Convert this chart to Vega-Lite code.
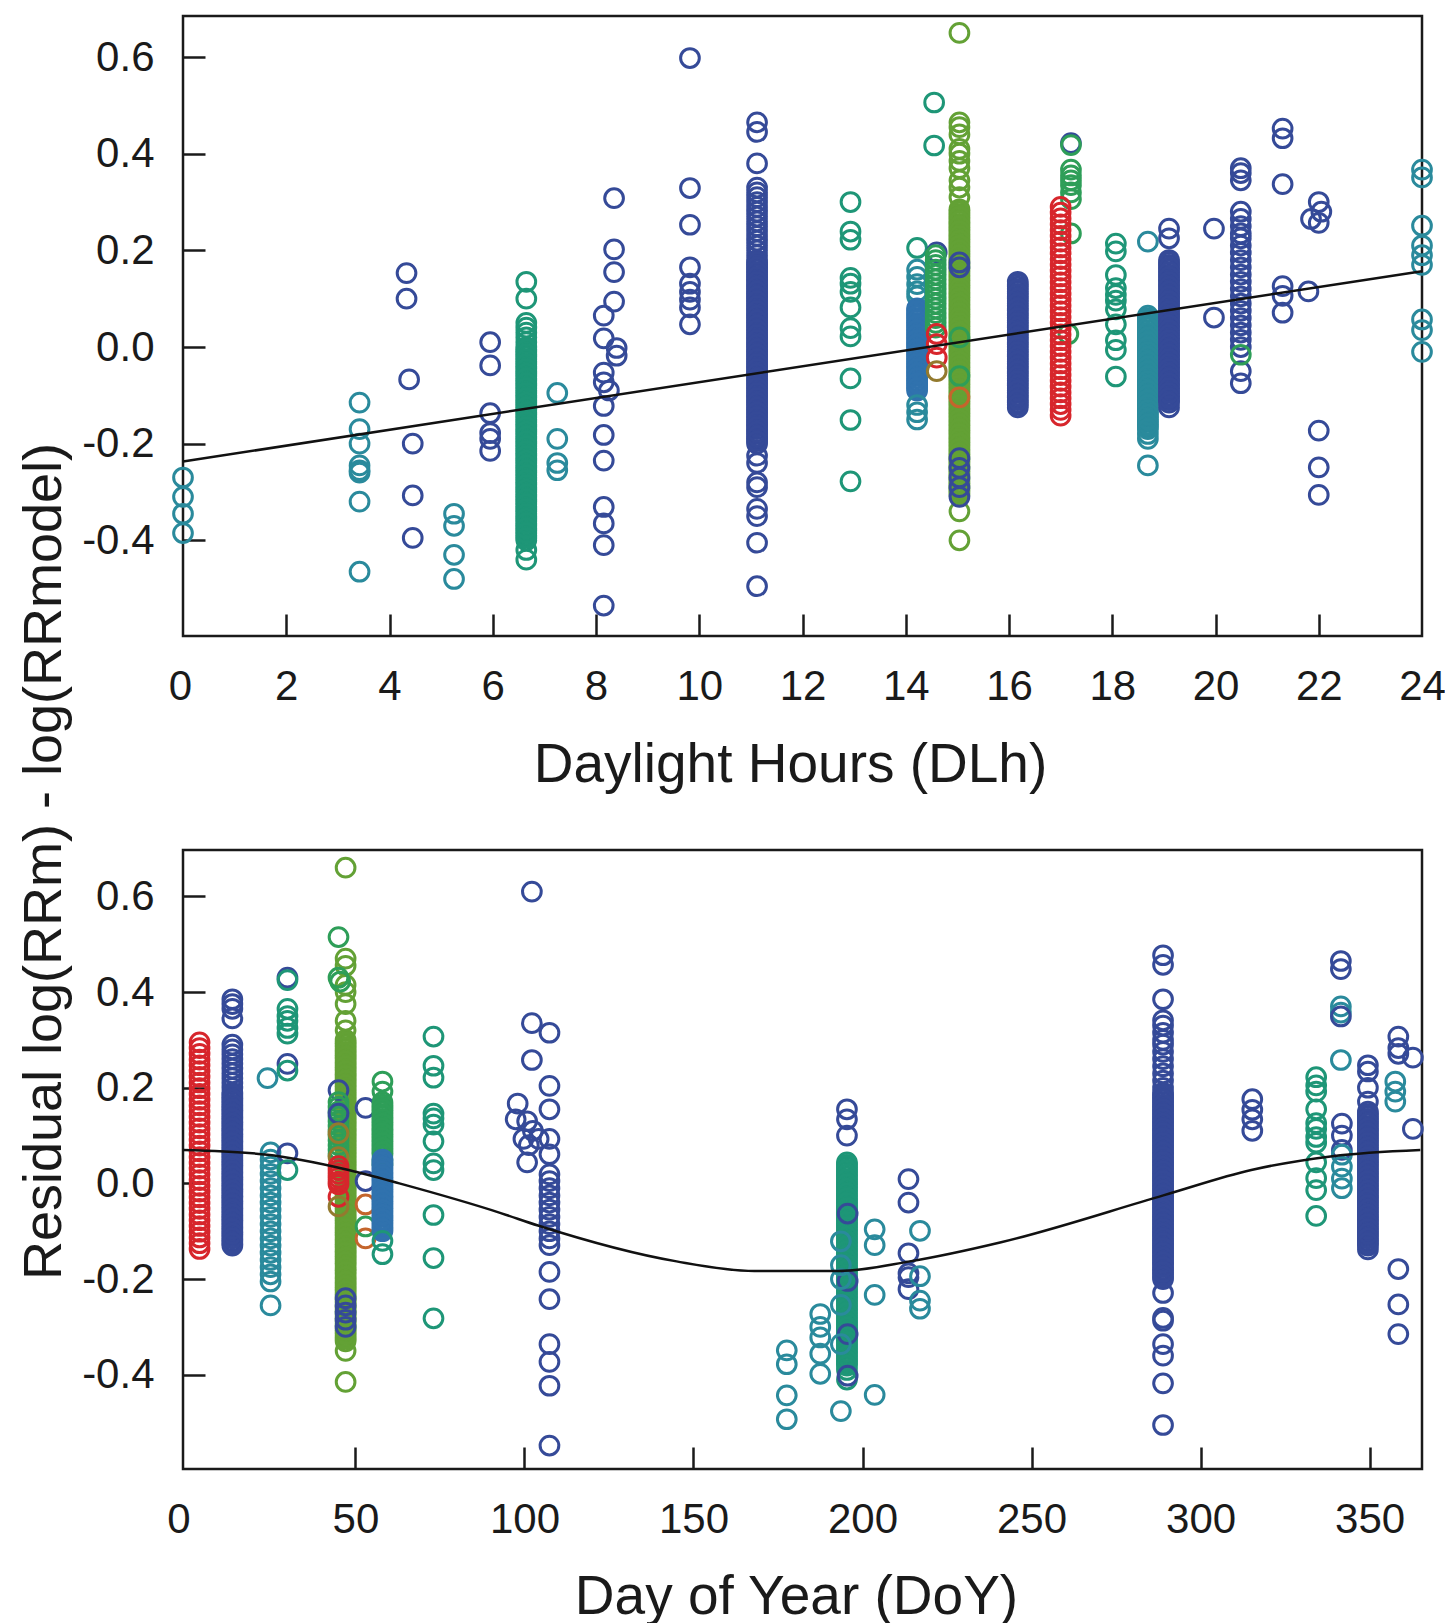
{
"$schema":"https://vega.github.io/schema/vega-lite/v6.json",
"background":"white",
"padding":{"left":15,"top":14,"right":2,"bottom":0},
"spacing":214,
"bounds":"flush",
"config":{
 "view":{"stroke":"#1a1a1a","strokeWidth":2.5},
 "axis":{"domain":false,"grid":false,"ticks":true,"tickColor":"#1a1a1a","tickWidth":2.5,"tickSize":-22,"labelFont":"Liberation Sans","labelFontSize":42,"labelColor":"#1a1a1a","titleFont":"Liberation Sans","titleFontSize":55,"titleFontWeight":"normal","titleColor":"#1a1a1a","labelFlush":false,"labelOverlap":false},
 "axisX":{"labelPadding":52},
 "axisY":{"labelPadding":51}
},
"datasets":{
"tl":[{"x":0,"y":-0.237},{"x":24,"y":0.157}],
"bl":[{"x":-1,"y":0.07},{"x":24,"y":0.06},{"x":34,"y":0.049},{"x":48,"y":0.028},{"x":63,"y":0.0},{"x":93,"y":-0.062},{"x":104,"y":-0.088},{"x":145,"y":-0.163},{"x":168,"y":-0.183},{"x":193,"y":-0.183},{"x":214,"y":-0.163},{"x":241,"y":-0.123},{"x":289,"y":-0.025},{"x":315,"y":0.028},{"x":339,"y":0.057},{"x":365,"y":0.07}],
"top":[
{"x":0,"y":-0.27,"c":"tea"},{"x":0,"y":-0.31,"c":"tea"},{"x":0,"y":-0.345,"c":"tea"},{"x":0,"y":-0.385,"c":"tea"},
{"x":3.42,"y":-0.115,"c":"tea"},{"x":3.42,"y":-0.17,"c":"tea"},{"x":3.42,"y":-0.2,"c":"tea"},{"x":3.42,"y":-0.245,"c":"tea"},{"x":3.42,"y":-0.255,"c":"tea"},{"x":3.42,"y":-0.26,"c":"tea"},{"x":3.42,"y":-0.32,"c":"tea"},{"x":3.42,"y":-0.465,"c":"tea"},
{"x":4.33,"y":0.153,"c":"nav"},{"x":4.33,"y":0.1,"c":"nav"},{"x":4.38,"y":-0.067,"c":"nav"},{"x":4.45,"y":-0.2,"c":"nav"},{"x":4.45,"y":-0.307,"c":"nav"},{"x":4.45,"y":-0.395,"c":"nav"},
{"x":5.25,"y":-0.345,"c":"tea"},{"x":5.25,"y":-0.37,"c":"tea"},{"x":5.25,"y":-0.43,"c":"tea"},{"x":5.25,"y":-0.48,"c":"tea"},
{"x":5.95,"y":0.01,"c":"nav"},{"x":5.95,"y":-0.038,"c":"nav"},{"x":5.95,"y":-0.137,"c":"nav"},{"x":5.95,"y":-0.178,"c":"nav"},{"x":5.95,"y":-0.19,"c":"nav"},{"x":5.95,"y":-0.215,"c":"nav"},
{"x":6.65,"y":0.135,"c":"sea"},{"x":6.65,"y":0.1,"c":"sea"},{"x":6.65,"y":0.05,"c":"sea"},{"x":6.65,"y":0.04,"c":"sea"},{"x":6.65,"y":0.03,"c":"sea"},{"x":6.65,"y":0.02,"c":"sea"},{"x":6.65,"y":0.01,"c":"sea"},{"x":6.65,"y":0,"c":"sea"},{"x":6.65,"y":-0.01,"c":"sea"},{"x":6.65,"y":-0.02,"c":"sea"},{"x":6.65,"y":-0.03,"c":"sea"},{"x":6.65,"y":-0.04,"c":"sea"},{"x":6.65,"y":-0.05,"c":"sea"},{"x":6.65,"y":-0.06,"c":"sea"},{"x":6.65,"y":-0.07,"c":"sea"},{"x":6.65,"y":-0.08,"c":"sea"},{"x":6.65,"y":-0.09,"c":"sea"},{"x":6.65,"y":-0.1,"c":"sea"},{"x":6.65,"y":-0.11,"c":"sea"},{"x":6.65,"y":-0.12,"c":"sea"},{"x":6.65,"y":-0.13,"c":"sea"},{"x":6.65,"y":-0.14,"c":"sea"},{"x":6.65,"y":-0.15,"c":"sea"},{"x":6.65,"y":-0.16,"c":"sea"},{"x":6.65,"y":-0.17,"c":"sea"},{"x":6.65,"y":-0.18,"c":"sea"},{"x":6.65,"y":-0.19,"c":"sea"},{"x":6.65,"y":-0.2,"c":"sea"},{"x":6.65,"y":-0.21,"c":"sea"},{"x":6.65,"y":-0.22,"c":"sea"},{"x":6.65,"y":-0.23,"c":"sea"},{"x":6.65,"y":-0.24,"c":"sea"},{"x":6.65,"y":-0.25,"c":"sea"},{"x":6.65,"y":-0.26,"c":"sea"},{"x":6.65,"y":-0.27,"c":"sea"},{"x":6.65,"y":-0.28,"c":"sea"},{"x":6.65,"y":-0.29,"c":"sea"},{"x":6.65,"y":-0.3,"c":"sea"},{"x":6.65,"y":-0.31,"c":"sea"},{"x":6.65,"y":-0.32,"c":"sea"},{"x":6.65,"y":-0.33,"c":"sea"},{"x":6.65,"y":-0.34,"c":"sea"},{"x":6.65,"y":-0.35,"c":"sea"},{"x":6.65,"y":-0.36,"c":"sea"},{"x":6.65,"y":-0.37,"c":"sea"},{"x":6.65,"y":-0.38,"c":"sea"},{"x":6.65,"y":-0.39,"c":"sea"},{"x":6.65,"y":-0.4,"c":"sea"},{"x":6.65,"y":-0.42,"c":"sea"},{"x":6.65,"y":-0.44,"c":"sea"},
{"x":6.65,"y":-0.005,"c":"sea"},{"x":6.65,"y":-0.015,"c":"sea"},{"x":6.65,"y":-0.025,"c":"sea"},{"x":6.65,"y":-0.035,"c":"sea"},{"x":6.65,"y":-0.045,"c":"sea"},{"x":6.65,"y":-0.055,"c":"sea"},{"x":6.65,"y":-0.065,"c":"sea"},{"x":6.65,"y":-0.075,"c":"sea"},{"x":6.65,"y":-0.085,"c":"sea"},{"x":6.65,"y":-0.095,"c":"sea"},{"x":6.65,"y":-0.105,"c":"sea"},{"x":6.65,"y":-0.115,"c":"sea"},{"x":6.65,"y":-0.125,"c":"sea"},{"x":6.65,"y":-0.135,"c":"sea"},{"x":6.65,"y":-0.145,"c":"sea"},{"x":6.65,"y":-0.155,"c":"sea"},{"x":6.65,"y":-0.165,"c":"sea"},{"x":6.65,"y":-0.175,"c":"sea"},{"x":6.65,"y":-0.185,"c":"sea"},{"x":6.65,"y":-0.195,"c":"sea"},{"x":6.65,"y":-0.205,"c":"sea"},{"x":6.65,"y":-0.215,"c":"sea"},{"x":6.65,"y":-0.225,"c":"sea"},{"x":6.65,"y":-0.235,"c":"sea"},{"x":6.65,"y":-0.245,"c":"sea"},{"x":6.65,"y":-0.255,"c":"sea"},{"x":6.65,"y":-0.265,"c":"sea"},{"x":6.65,"y":-0.275,"c":"sea"},{"x":6.65,"y":-0.285,"c":"sea"},{"x":6.65,"y":-0.295,"c":"sea"},{"x":6.65,"y":-0.305,"c":"sea"},{"x":6.65,"y":-0.315,"c":"sea"},{"x":6.65,"y":-0.325,"c":"sea"},{"x":6.65,"y":-0.335,"c":"sea"},{"x":6.65,"y":-0.345,"c":"sea"},{"x":6.65,"y":-0.355,"c":"sea"},{"x":6.65,"y":-0.365,"c":"sea"},{"x":6.65,"y":-0.375,"c":"sea"},{"x":6.65,"y":-0.385,"c":"sea"},{"x":6.65,"y":-0.395,"c":"sea"},
{"x":7.25,"y":-0.095,"c":"tea"},{"x":7.25,"y":-0.19,"c":"tea"},{"x":7.25,"y":-0.24,"c":"tea"},{"x":7.25,"y":-0.255,"c":"tea"},
{"x":8.35,"y":0.308,"c":"nav"},{"x":8.35,"y":0.202,"c":"nav"},{"x":8.35,"y":0.155,"c":"nav"},{"x":8.35,"y":0.094,"c":"nav"},{"x":8.15,"y":0.065,"c":"nav"},{"x":8.15,"y":0.018,"c":"nav"},{"x":8.4,"y":-0.002,"c":"nav"},{"x":8.4,"y":-0.018,"c":"nav"},{"x":8.15,"y":-0.053,"c":"nav"},{"x":8.15,"y":-0.073,"c":"nav"},{"x":8.25,"y":-0.09,"c":"nav"},{"x":8.15,"y":-0.122,"c":"nav"},{"x":8.15,"y":-0.182,"c":"nav"},{"x":8.15,"y":-0.235,"c":"nav"},{"x":8.15,"y":-0.331,"c":"nav"},{"x":8.15,"y":-0.365,"c":"nav"},{"x":8.15,"y":-0.41,"c":"nav"},{"x":8.15,"y":-0.535,"c":"nav"},
{"x":9.82,"y":0.598,"c":"nav"},{"x":9.82,"y":0.329,"c":"nav"},{"x":9.82,"y":0.253,"c":"nav"},{"x":9.82,"y":0.165,"c":"nav"},{"x":9.82,"y":0.131,"c":"nav"},{"x":9.82,"y":0.114,"c":"nav"},{"x":9.82,"y":0.098,"c":"nav"},{"x":9.82,"y":0.082,"c":"nav"},{"x":9.82,"y":0.047,"c":"nav"},
{"x":11.12,"y":0.465,"c":"nav"},{"x":11.12,"y":0.445,"c":"nav"},{"x":11.12,"y":0.38,"c":"nav"},{"x":11.12,"y":0.33,"c":"nav"},{"x":11.12,"y":0.32,"c":"nav"},{"x":11.12,"y":0.31,"c":"nav"},{"x":11.12,"y":0.3,"c":"nav"},{"x":11.12,"y":0.29,"c":"nav"},{"x":11.12,"y":0.28,"c":"nav"},{"x":11.12,"y":0.27,"c":"nav"},{"x":11.12,"y":0.26,"c":"nav"},{"x":11.12,"y":0.25,"c":"nav"},{"x":11.12,"y":0.24,"c":"nav"},{"x":11.12,"y":0.23,"c":"nav"},{"x":11.12,"y":0.22,"c":"nav"},{"x":11.12,"y":0.21,"c":"nav"},{"x":11.12,"y":0.2,"c":"nav"},{"x":11.12,"y":0.19,"c":"nav"},{"x":11.12,"y":0.18,"c":"nav"},{"x":11.12,"y":0.17,"c":"nav"},{"x":11.12,"y":0.16,"c":"nav"},{"x":11.12,"y":0.15,"c":"nav"},{"x":11.12,"y":0.14,"c":"nav"},{"x":11.12,"y":0.13,"c":"nav"},{"x":11.12,"y":0.12,"c":"nav"},{"x":11.12,"y":0.11,"c":"nav"},{"x":11.12,"y":0.1,"c":"nav"},{"x":11.12,"y":0.09,"c":"nav"},{"x":11.12,"y":0.08,"c":"nav"},{"x":11.12,"y":0.07,"c":"nav"},{"x":11.12,"y":0.06,"c":"nav"},{"x":11.12,"y":0.05,"c":"nav"},{"x":11.12,"y":0.04,"c":"nav"},{"x":11.12,"y":0.03,"c":"nav"},{"x":11.12,"y":0.02,"c":"nav"},{"x":11.12,"y":0.01,"c":"nav"},{"x":11.12,"y":0,"c":"nav"},{"x":11.12,"y":-0.01,"c":"nav"},{"x":11.12,"y":-0.02,"c":"nav"},{"x":11.12,"y":-0.03,"c":"nav"},{"x":11.12,"y":-0.04,"c":"nav"},{"x":11.12,"y":-0.05,"c":"nav"},{"x":11.12,"y":-0.06,"c":"nav"},{"x":11.12,"y":-0.07,"c":"nav"},{"x":11.12,"y":-0.08,"c":"nav"},{"x":11.12,"y":-0.09,"c":"nav"},{"x":11.12,"y":-0.1,"c":"nav"},{"x":11.12,"y":-0.11,"c":"nav"},{"x":11.12,"y":-0.12,"c":"nav"},{"x":11.12,"y":-0.13,"c":"nav"},{"x":11.12,"y":-0.14,"c":"nav"},{"x":11.12,"y":-0.15,"c":"nav"},{"x":11.12,"y":-0.16,"c":"nav"},{"x":11.12,"y":-0.17,"c":"nav"},{"x":11.12,"y":-0.18,"c":"nav"},{"x":11.12,"y":-0.19,"c":"nav"},{"x":11.12,"y":-0.2,"c":"nav"},{"x":11.12,"y":-0.225,"c":"nav"},{"x":11.12,"y":-0.24,"c":"nav"},{"x":11.12,"y":-0.28,"c":"nav"},{"x":11.12,"y":-0.29,"c":"nav"},{"x":11.12,"y":-0.335,"c":"nav"},{"x":11.12,"y":-0.35,"c":"nav"},{"x":11.12,"y":-0.405,"c":"nav"},{"x":11.12,"y":-0.495,"c":"nav"},
{"x":11.12,"y":0.175,"c":"nav"},{"x":11.12,"y":0.165,"c":"nav"},{"x":11.12,"y":0.155,"c":"nav"},{"x":11.12,"y":0.145,"c":"nav"},{"x":11.12,"y":0.135,"c":"nav"},{"x":11.12,"y":0.125,"c":"nav"},{"x":11.12,"y":0.115,"c":"nav"},{"x":11.12,"y":0.105,"c":"nav"},{"x":11.12,"y":0.095,"c":"nav"},{"x":11.12,"y":0.085,"c":"nav"},{"x":11.12,"y":0.075,"c":"nav"},{"x":11.12,"y":0.065,"c":"nav"},{"x":11.12,"y":0.055,"c":"nav"},{"x":11.12,"y":0.045,"c":"nav"},{"x":11.12,"y":0.035,"c":"nav"},{"x":11.12,"y":0.025,"c":"nav"},{"x":11.12,"y":0.015,"c":"nav"},{"x":11.12,"y":0.005,"c":"nav"},{"x":11.12,"y":-0.005,"c":"nav"},{"x":11.12,"y":-0.015,"c":"nav"},{"x":11.12,"y":-0.025,"c":"nav"},{"x":11.12,"y":-0.035,"c":"nav"},{"x":11.12,"y":-0.045,"c":"nav"},{"x":11.12,"y":-0.055,"c":"nav"},{"x":11.12,"y":-0.065,"c":"nav"},{"x":11.12,"y":-0.075,"c":"nav"},{"x":11.12,"y":-0.085,"c":"nav"},{"x":11.12,"y":-0.095,"c":"nav"},{"x":11.12,"y":-0.105,"c":"nav"},{"x":11.12,"y":-0.115,"c":"nav"},{"x":11.12,"y":-0.125,"c":"nav"},{"x":11.12,"y":-0.135,"c":"nav"},{"x":11.12,"y":-0.145,"c":"nav"},{"x":11.12,"y":-0.155,"c":"nav"},{"x":11.12,"y":-0.165,"c":"nav"},{"x":11.12,"y":-0.175,"c":"nav"},{"x":11.12,"y":-0.185,"c":"nav"},{"x":11.12,"y":-0.195,"c":"nav"},
{"x":12.93,"y":0.3,"c":"sea"},{"x":12.93,"y":0.239,"c":"sea"},{"x":12.93,"y":0.222,"c":"sea"},{"x":12.93,"y":0.143,"c":"sea"},{"x":12.93,"y":0.131,"c":"sea"},{"x":12.93,"y":0.114,"c":"sea"},{"x":12.93,"y":0.082,"c":"sea"},{"x":12.93,"y":0.039,"c":"sea"},{"x":12.93,"y":0.022,"c":"sea"},{"x":12.93,"y":-0.065,"c":"sea"},{"x":12.93,"y":-0.151,"c":"sea"},{"x":12.93,"y":-0.278,"c":"sea"},
{"x":14.22,"y":0.205,"c":"sea"},{"x":14.22,"y":0.16,"c":"tea"},{"x":14.22,"y":0.145,"c":"tea"},{"x":14.22,"y":0.13,"c":"tea"},{"x":14.22,"y":0.115,"c":"tea"},{"x":14.22,"y":0.105,"c":"tea"},
{"x":14.22,"y":0.08,"c":"stb"},{"x":14.22,"y":0.07,"c":"stb"},{"x":14.22,"y":0.06,"c":"stb"},{"x":14.22,"y":0.05,"c":"stb"},{"x":14.22,"y":0.04,"c":"stb"},{"x":14.22,"y":0.03,"c":"stb"},{"x":14.22,"y":0.02,"c":"stb"},{"x":14.22,"y":0.01,"c":"stb"},{"x":14.22,"y":0,"c":"stb"},{"x":14.22,"y":-0.01,"c":"stb"},{"x":14.22,"y":-0.02,"c":"stb"},{"x":14.22,"y":-0.03,"c":"stb"},{"x":14.22,"y":-0.04,"c":"stb"},{"x":14.22,"y":-0.05,"c":"stb"},{"x":14.22,"y":-0.06,"c":"stb"},{"x":14.22,"y":-0.07,"c":"stb"},{"x":14.22,"y":-0.08,"c":"stb"},{"x":14.22,"y":-0.09,"c":"stb"},
{"x":14.22,"y":0.075,"c":"stb"},{"x":14.22,"y":0.065,"c":"stb"},{"x":14.22,"y":0.055,"c":"stb"},{"x":14.22,"y":0.045,"c":"stb"},{"x":14.22,"y":0.035,"c":"stb"},{"x":14.22,"y":0.025,"c":"stb"},{"x":14.22,"y":0.015,"c":"stb"},{"x":14.22,"y":0.005,"c":"stb"},{"x":14.22,"y":-0.005,"c":"stb"},{"x":14.22,"y":-0.015,"c":"stb"},{"x":14.22,"y":-0.025,"c":"stb"},{"x":14.22,"y":-0.035,"c":"stb"},{"x":14.22,"y":-0.045,"c":"stb"},{"x":14.22,"y":-0.055,"c":"stb"},{"x":14.22,"y":-0.065,"c":"stb"},{"x":14.22,"y":-0.075,"c":"stb"},{"x":14.22,"y":-0.085,"c":"stb"},
{"x":14.22,"y":-0.12,"c":"tea"},{"x":14.22,"y":-0.135,"c":"tea"},{"x":14.22,"y":-0.15,"c":"tea"},
{"x":14.55,"y":0.506,"c":"sea"},{"x":14.55,"y":0.417,"c":"sea"},{"x":14.6,"y":0.196,"c":"nav"},
{"x":14.58,"y":0.19,"c":"grn"},{"x":14.58,"y":0.18,"c":"grn"},{"x":14.58,"y":0.17,"c":"grn"},{"x":14.58,"y":0.16,"c":"grn"},{"x":14.58,"y":0.15,"c":"grn"},{"x":14.58,"y":0.14,"c":"grn"},{"x":14.58,"y":0.13,"c":"grn"},{"x":14.58,"y":0.12,"c":"grn"},{"x":14.58,"y":0.11,"c":"grn"},{"x":14.58,"y":0.1,"c":"grn"},{"x":14.58,"y":0.09,"c":"grn"},{"x":14.58,"y":0.08,"c":"grn"},{"x":14.58,"y":0.07,"c":"grn"},{"x":14.58,"y":0.06,"c":"grn"},{"x":14.58,"y":0.05,"c":"grn"},{"x":14.58,"y":0.04,"c":"grn"},
{"x":14.6,"y":0.027,"c":"red"},{"x":14.6,"y":0.006,"c":"red"},{"x":14.6,"y":-0.022,"c":"red"},{"x":14.6,"y":-0.05,"c":"brn"},
{"x":15.04,"y":0.65,"c":"oli"},{"x":15.04,"y":0.465,"c":"oli"},{"x":15.04,"y":0.455,"c":"oli"},{"x":15.04,"y":0.44,"c":"oli"},{"x":15.04,"y":0.41,"c":"oli"},{"x":15.04,"y":0.4,"c":"oli"},{"x":15.04,"y":0.385,"c":"oli"},{"x":15.04,"y":0.37,"c":"oli"},{"x":15.04,"y":0.345,"c":"oli"},{"x":15.04,"y":0.33,"c":"oli"},{"x":15.04,"y":0.31,"c":"oli"},
{"x":15.04,"y":0.285,"c":"oli"},{"x":15.04,"y":0.275,"c":"oli"},{"x":15.04,"y":0.265,"c":"oli"},{"x":15.04,"y":0.255,"c":"oli"},{"x":15.04,"y":0.245,"c":"oli"},{"x":15.04,"y":0.235,"c":"oli"},{"x":15.04,"y":0.225,"c":"oli"},{"x":15.04,"y":0.215,"c":"oli"},{"x":15.04,"y":0.205,"c":"oli"},{"x":15.04,"y":0.195,"c":"oli"},{"x":15.04,"y":0.185,"c":"oli"},{"x":15.04,"y":0.175,"c":"oli"},{"x":15.04,"y":0.165,"c":"oli"},{"x":15.04,"y":0.155,"c":"oli"},{"x":15.04,"y":0.145,"c":"oli"},{"x":15.04,"y":0.135,"c":"oli"},{"x":15.04,"y":0.125,"c":"oli"},{"x":15.04,"y":0.115,"c":"oli"},{"x":15.04,"y":0.105,"c":"oli"},{"x":15.04,"y":0.095,"c":"oli"},{"x":15.04,"y":0.085,"c":"oli"},{"x":15.04,"y":0.075,"c":"oli"},{"x":15.04,"y":0.065,"c":"oli"},{"x":15.04,"y":0.055,"c":"oli"},{"x":15.04,"y":0.045,"c":"oli"},{"x":15.04,"y":0.035,"c":"oli"},{"x":15.04,"y":0.025,"c":"oli"},{"x":15.04,"y":0.015,"c":"oli"},{"x":15.04,"y":0.005,"c":"oli"},{"x":15.04,"y":-0.005,"c":"oli"},{"x":15.04,"y":-0.015,"c":"oli"},{"x":15.04,"y":-0.025,"c":"oli"},{"x":15.04,"y":-0.035,"c":"oli"},{"x":15.04,"y":-0.045,"c":"oli"},{"x":15.04,"y":-0.055,"c":"oli"},{"x":15.04,"y":-0.065,"c":"oli"},{"x":15.04,"y":-0.075,"c":"oli"},{"x":15.04,"y":-0.085,"c":"oli"},{"x":15.04,"y":-0.095,"c":"oli"},{"x":15.04,"y":-0.105,"c":"oli"},{"x":15.04,"y":-0.115,"c":"oli"},{"x":15.04,"y":-0.125,"c":"oli"},{"x":15.04,"y":-0.135,"c":"oli"},{"x":15.04,"y":-0.145,"c":"oli"},{"x":15.04,"y":-0.155,"c":"oli"},{"x":15.04,"y":-0.165,"c":"oli"},{"x":15.04,"y":-0.175,"c":"oli"},{"x":15.04,"y":-0.185,"c":"oli"},{"x":15.04,"y":-0.195,"c":"oli"},{"x":15.04,"y":-0.205,"c":"oli"},{"x":15.04,"y":-0.215,"c":"oli"},{"x":15.04,"y":-0.225,"c":"oli"},{"x":15.04,"y":-0.235,"c":"oli"},{"x":15.04,"y":-0.245,"c":"oli"},{"x":15.04,"y":-0.255,"c":"oli"},{"x":15.04,"y":-0.265,"c":"oli"},{"x":15.04,"y":-0.275,"c":"oli"},{"x":15.04,"y":-0.285,"c":"oli"},{"x":15.04,"y":-0.295,"c":"oli"},{"x":15.04,"y":-0.305,"c":"oli"},{"x":15.04,"y":-0.34,"c":"oli"},{"x":15.04,"y":-0.4,"c":"oli"},
{"x":15.04,"y":0.28,"c":"oli"},{"x":15.04,"y":0.27,"c":"oli"},{"x":15.04,"y":0.26,"c":"oli"},{"x":15.04,"y":0.25,"c":"oli"},{"x":15.04,"y":0.24,"c":"oli"},{"x":15.04,"y":0.23,"c":"oli"},{"x":15.04,"y":0.22,"c":"oli"},{"x":15.04,"y":0.21,"c":"oli"},{"x":15.04,"y":0.2,"c":"oli"},{"x":15.04,"y":0.19,"c":"oli"},{"x":15.04,"y":0.18,"c":"oli"},{"x":15.04,"y":0.17,"c":"oli"},{"x":15.04,"y":0.16,"c":"oli"},{"x":15.04,"y":0.15,"c":"oli"},{"x":15.04,"y":0.14,"c":"oli"},{"x":15.04,"y":0.13,"c":"oli"},{"x":15.04,"y":0.12,"c":"oli"},{"x":15.04,"y":0.11,"c":"oli"},{"x":15.04,"y":0.1,"c":"oli"},{"x":15.04,"y":0.09,"c":"oli"},{"x":15.04,"y":0.08,"c":"oli"},{"x":15.04,"y":0.07,"c":"oli"},{"x":15.04,"y":0.06,"c":"oli"},{"x":15.04,"y":0.05,"c":"oli"},{"x":15.04,"y":0.04,"c":"oli"},{"x":15.04,"y":0.03,"c":"oli"},{"x":15.04,"y":0.02,"c":"oli"},{"x":15.04,"y":0.01,"c":"oli"},{"x":15.04,"y":0,"c":"oli"},{"x":15.04,"y":-0.01,"c":"oli"},{"x":15.04,"y":-0.02,"c":"oli"},{"x":15.04,"y":-0.03,"c":"oli"},{"x":15.04,"y":-0.04,"c":"oli"},{"x":15.04,"y":-0.05,"c":"oli"},{"x":15.04,"y":-0.06,"c":"oli"},{"x":15.04,"y":-0.07,"c":"oli"},{"x":15.04,"y":-0.08,"c":"oli"},{"x":15.04,"y":-0.09,"c":"oli"},{"x":15.04,"y":-0.1,"c":"oli"},{"x":15.04,"y":-0.11,"c":"oli"},{"x":15.04,"y":-0.12,"c":"oli"},{"x":15.04,"y":-0.13,"c":"oli"},{"x":15.04,"y":-0.14,"c":"oli"},{"x":15.04,"y":-0.15,"c":"oli"},{"x":15.04,"y":-0.16,"c":"oli"},{"x":15.04,"y":-0.17,"c":"oli"},{"x":15.04,"y":-0.18,"c":"oli"},{"x":15.04,"y":-0.19,"c":"oli"},{"x":15.04,"y":-0.2,"c":"oli"},{"x":15.04,"y":-0.21,"c":"oli"},{"x":15.04,"y":-0.22,"c":"oli"},{"x":15.04,"y":-0.23,"c":"oli"},{"x":15.04,"y":-0.24,"c":"oli"},{"x":15.04,"y":-0.25,"c":"oli"},{"x":15.04,"y":-0.26,"c":"oli"},{"x":15.04,"y":-0.27,"c":"oli"},{"x":15.04,"y":-0.28,"c":"oli"},{"x":15.04,"y":-0.29,"c":"oli"},{"x":15.04,"y":-0.3,"c":"oli"},
{"x":15.04,"y":0.175,"c":"nav"},{"x":15.04,"y":0.165,"c":"nav"},{"x":15.04,"y":0.02,"c":"grn"},{"x":15.04,"y":-0.06,"c":"grn"},{"x":15.04,"y":-0.104,"c":"org"},{"x":15.04,"y":-0.23,"c":"nav"},{"x":15.04,"y":-0.25,"c":"nav"},{"x":15.04,"y":-0.27,"c":"nav"},{"x":15.04,"y":-0.29,"c":"nav"},{"x":15.04,"y":-0.31,"c":"nav"},
{"x":16.17,"y":0.135,"c":"nav"},{"x":16.17,"y":0.125,"c":"nav"},{"x":16.17,"y":0.115,"c":"nav"},{"x":16.17,"y":0.105,"c":"nav"},{"x":16.17,"y":0.095,"c":"nav"},{"x":16.17,"y":0.085,"c":"nav"},{"x":16.17,"y":0.075,"c":"nav"},{"x":16.17,"y":0.065,"c":"nav"},{"x":16.17,"y":0.055,"c":"nav"},{"x":16.17,"y":0.045,"c":"nav"},{"x":16.17,"y":0.035,"c":"nav"},{"x":16.17,"y":0.025,"c":"nav"},{"x":16.17,"y":0.015,"c":"nav"},{"x":16.17,"y":0.005,"c":"nav"},{"x":16.17,"y":-0.005,"c":"nav"},{"x":16.17,"y":-0.015,"c":"nav"},{"x":16.17,"y":-0.025,"c":"nav"},{"x":16.17,"y":-0.035,"c":"nav"},{"x":16.17,"y":-0.045,"c":"nav"},{"x":16.17,"y":-0.055,"c":"nav"},{"x":16.17,"y":-0.065,"c":"nav"},{"x":16.17,"y":-0.075,"c":"nav"},{"x":16.17,"y":-0.085,"c":"nav"},{"x":16.17,"y":-0.095,"c":"nav"},{"x":16.17,"y":-0.105,"c":"nav"},{"x":16.17,"y":-0.115,"c":"nav"},{"x":16.17,"y":-0.125,"c":"nav"},
{"x":16.17,"y":0.13,"c":"nav"},{"x":16.17,"y":0.12,"c":"nav"},{"x":16.17,"y":0.11,"c":"nav"},{"x":16.17,"y":0.1,"c":"nav"},{"x":16.17,"y":0.09,"c":"nav"},{"x":16.17,"y":0.08,"c":"nav"},{"x":16.17,"y":0.07,"c":"nav"},{"x":16.17,"y":0.06,"c":"nav"},{"x":16.17,"y":0.05,"c":"nav"},{"x":16.17,"y":0.04,"c":"nav"},{"x":16.17,"y":0.03,"c":"nav"},{"x":16.17,"y":0.02,"c":"nav"},{"x":16.17,"y":0.01,"c":"nav"},{"x":16.17,"y":0,"c":"nav"},{"x":16.17,"y":-0.01,"c":"nav"},{"x":16.17,"y":-0.02,"c":"nav"},{"x":16.17,"y":-0.03,"c":"nav"},{"x":16.17,"y":-0.04,"c":"nav"},{"x":16.17,"y":-0.05,"c":"nav"},{"x":16.17,"y":-0.06,"c":"nav"},{"x":16.17,"y":-0.07,"c":"nav"},{"x":16.17,"y":-0.08,"c":"nav"},{"x":16.17,"y":-0.09,"c":"nav"},{"x":16.17,"y":-0.1,"c":"nav"},{"x":16.17,"y":-0.11,"c":"nav"},{"x":16.17,"y":-0.12,"c":"nav"},
{"x":17.2,"y":0.422,"c":"nav"},{"x":17.2,"y":0.418,"c":"grn"},{"x":17.2,"y":0.367,"c":"grn"},{"x":17.2,"y":0.355,"c":"grn"},{"x":17.2,"y":0.345,"c":"grn"},{"x":17.2,"y":0.335,"c":"grn"},{"x":17.2,"y":0.32,"c":"grn"},{"x":17.2,"y":0.306,"c":"grn"},{"x":17.2,"y":0.235,"c":"grn"},{"x":17.15,"y":0.027,"c":"grn"},
{"x":17.0,"y":0.29,"c":"red"},{"x":17.0,"y":0.278,"c":"red"},{"x":17.0,"y":0.266,"c":"red"},{"x":17.0,"y":0.254,"c":"red"},{"x":17.0,"y":0.242,"c":"red"},{"x":17.0,"y":0.23,"c":"red"},{"x":17.0,"y":0.218,"c":"red"},{"x":17.0,"y":0.206,"c":"red"},{"x":17.0,"y":0.194,"c":"red"},{"x":17.0,"y":0.182,"c":"red"},{"x":17.0,"y":0.17,"c":"red"},{"x":17.0,"y":0.158,"c":"red"},{"x":17.0,"y":0.146,"c":"red"},{"x":17.0,"y":0.134,"c":"red"},{"x":17.0,"y":0.122,"c":"red"},{"x":17.0,"y":0.11,"c":"red"},{"x":17.0,"y":0.098,"c":"red"},{"x":17.0,"y":0.086,"c":"red"},{"x":17.0,"y":0.074,"c":"red"},{"x":17.0,"y":0.062,"c":"red"},{"x":17.0,"y":0.05,"c":"red"},{"x":17.0,"y":0.038,"c":"red"},{"x":17.0,"y":0.026,"c":"red"},{"x":17.0,"y":0.014,"c":"red"},{"x":17.0,"y":0.002,"c":"red"},{"x":17.0,"y":-0.01,"c":"red"},{"x":17.0,"y":-0.022,"c":"red"},{"x":17.0,"y":-0.034,"c":"red"},{"x":17.0,"y":-0.046,"c":"red"},{"x":17.0,"y":-0.058,"c":"red"},{"x":17.0,"y":-0.07,"c":"red"},{"x":17.0,"y":-0.082,"c":"red"},{"x":17.0,"y":-0.094,"c":"red"},{"x":17.0,"y":-0.106,"c":"red"},{"x":17.0,"y":-0.118,"c":"red"},{"x":17.0,"y":-0.13,"c":"red"},{"x":17.0,"y":-0.142,"c":"red"},
{"x":18.07,"y":0.214,"c":"sea"},{"x":18.07,"y":0.198,"c":"sea"},{"x":18.07,"y":0.149,"c":"sea"},{"x":18.07,"y":0.122,"c":"sea"},{"x":18.07,"y":0.108,"c":"sea"},{"x":18.07,"y":0.096,"c":"sea"},{"x":18.07,"y":0.078,"c":"sea"},{"x":18.07,"y":0.047,"c":"sea"},{"x":18.07,"y":0.014,"c":"sea"},{"x":18.07,"y":-0.006,"c":"sea"},{"x":18.07,"y":-0.061,"c":"sea"},
{"x":18.69,"y":0.218,"c":"tea"},{"x":18.69,"y":0.065,"c":"tea"},{"x":18.69,"y":0.055,"c":"tea"},{"x":18.69,"y":0.045,"c":"tea"},{"x":18.69,"y":0.035,"c":"tea"},{"x":18.69,"y":0.025,"c":"tea"},{"x":18.69,"y":0.015,"c":"tea"},{"x":18.69,"y":0.005,"c":"tea"},{"x":18.69,"y":-0.005,"c":"tea"},{"x":18.69,"y":-0.015,"c":"tea"},{"x":18.69,"y":-0.025,"c":"tea"},{"x":18.69,"y":-0.035,"c":"tea"},{"x":18.69,"y":-0.045,"c":"tea"},{"x":18.69,"y":-0.055,"c":"tea"},{"x":18.69,"y":-0.065,"c":"tea"},{"x":18.69,"y":-0.075,"c":"tea"},{"x":18.69,"y":-0.085,"c":"tea"},{"x":18.69,"y":-0.095,"c":"tea"},{"x":18.69,"y":-0.105,"c":"tea"},{"x":18.69,"y":-0.115,"c":"tea"},{"x":18.69,"y":-0.125,"c":"tea"},{"x":18.69,"y":-0.135,"c":"tea"},{"x":18.69,"y":-0.145,"c":"tea"},{"x":18.69,"y":-0.155,"c":"tea"},{"x":18.69,"y":-0.165,"c":"tea"},{"x":18.69,"y":-0.18,"c":"tea"},{"x":18.69,"y":-0.19,"c":"tea"},{"x":18.69,"y":-0.245,"c":"tea"},
{"x":18.69,"y":0.06,"c":"tea"},{"x":18.69,"y":0.05,"c":"tea"},{"x":18.69,"y":0.04,"c":"tea"},{"x":18.69,"y":0.03,"c":"tea"},{"x":18.69,"y":0.02,"c":"tea"},{"x":18.69,"y":0.01,"c":"tea"},{"x":18.69,"y":0,"c":"tea"},{"x":18.69,"y":-0.01,"c":"tea"},{"x":18.69,"y":-0.02,"c":"tea"},{"x":18.69,"y":-0.03,"c":"tea"},{"x":18.69,"y":-0.04,"c":"tea"},{"x":18.69,"y":-0.05,"c":"tea"},{"x":18.69,"y":-0.06,"c":"tea"},{"x":18.69,"y":-0.07,"c":"tea"},{"x":18.69,"y":-0.08,"c":"tea"},{"x":18.69,"y":-0.09,"c":"tea"},{"x":18.69,"y":-0.1,"c":"tea"},{"x":18.69,"y":-0.11,"c":"tea"},{"x":18.69,"y":-0.12,"c":"tea"},{"x":18.69,"y":-0.13,"c":"tea"},{"x":18.69,"y":-0.14,"c":"tea"},{"x":18.69,"y":-0.15,"c":"tea"},{"x":18.69,"y":-0.16,"c":"tea"},{"x":18.69,"y":-0.17,"c":"tea"},
{"x":19.1,"y":0.245,"c":"nav"},{"x":19.1,"y":0.225,"c":"nav"},{"x":19.1,"y":0.18,"c":"nav"},{"x":19.1,"y":0.17,"c":"nav"},{"x":19.1,"y":0.16,"c":"nav"},{"x":19.1,"y":0.15,"c":"nav"},{"x":19.1,"y":0.14,"c":"nav"},{"x":19.1,"y":0.13,"c":"nav"},{"x":19.1,"y":0.12,"c":"nav"},{"x":19.1,"y":0.11,"c":"nav"},{"x":19.1,"y":0.1,"c":"nav"},{"x":19.1,"y":0.09,"c":"nav"},{"x":19.1,"y":0.08,"c":"nav"},{"x":19.1,"y":0.07,"c":"nav"},{"x":19.1,"y":0.06,"c":"nav"},{"x":19.1,"y":0.05,"c":"nav"},{"x":19.1,"y":0.04,"c":"nav"},{"x":19.1,"y":0.03,"c":"nav"},{"x":19.1,"y":0.02,"c":"nav"},{"x":19.1,"y":0.01,"c":"nav"},{"x":19.1,"y":0,"c":"nav"},{"x":19.1,"y":-0.01,"c":"nav"},{"x":19.1,"y":-0.02,"c":"nav"},{"x":19.1,"y":-0.03,"c":"nav"},{"x":19.1,"y":-0.04,"c":"nav"},{"x":19.1,"y":-0.05,"c":"nav"},{"x":19.1,"y":-0.06,"c":"nav"},{"x":19.1,"y":-0.07,"c":"nav"},{"x":19.1,"y":-0.08,"c":"nav"},{"x":19.1,"y":-0.09,"c":"nav"},{"x":19.1,"y":-0.1,"c":"nav"},{"x":19.1,"y":-0.11,"c":"nav"},{"x":19.1,"y":-0.125,"c":"nav"},
{"x":19.1,"y":0.175,"c":"nav"},{"x":19.1,"y":0.165,"c":"nav"},{"x":19.1,"y":0.155,"c":"nav"},{"x":19.1,"y":0.145,"c":"nav"},{"x":19.1,"y":0.135,"c":"nav"},{"x":19.1,"y":0.125,"c":"nav"},{"x":19.1,"y":0.115,"c":"nav"},{"x":19.1,"y":0.105,"c":"nav"},{"x":19.1,"y":0.095,"c":"nav"},{"x":19.1,"y":0.085,"c":"nav"},{"x":19.1,"y":0.075,"c":"nav"},{"x":19.1,"y":0.065,"c":"nav"},{"x":19.1,"y":0.055,"c":"nav"},{"x":19.1,"y":0.045,"c":"nav"},{"x":19.1,"y":0.035,"c":"nav"},{"x":19.1,"y":0.025,"c":"nav"},{"x":19.1,"y":0.015,"c":"nav"},{"x":19.1,"y":0.005,"c":"nav"},{"x":19.1,"y":-0.005,"c":"nav"},{"x":19.1,"y":-0.015,"c":"nav"},{"x":19.1,"y":-0.025,"c":"nav"},{"x":19.1,"y":-0.035,"c":"nav"},{"x":19.1,"y":-0.045,"c":"nav"},{"x":19.1,"y":-0.055,"c":"nav"},{"x":19.1,"y":-0.065,"c":"nav"},{"x":19.1,"y":-0.075,"c":"nav"},{"x":19.1,"y":-0.085,"c":"nav"},{"x":19.1,"y":-0.095,"c":"nav"},{"x":19.1,"y":-0.105,"c":"nav"},{"x":19.1,"y":-0.115,"c":"nav"},
{"x":19.97,"y":0.245,"c":"nav"},{"x":19.97,"y":0.061,"c":"nav"},
{"x":20.49,"y":0.37,"c":"nav"},{"x":20.49,"y":0.36,"c":"nav"},{"x":20.49,"y":0.345,"c":"nav"},{"x":20.49,"y":0.28,"c":"nav"},{"x":20.49,"y":0.265,"c":"nav"},{"x":20.49,"y":0.25,"c":"nav"},{"x":20.49,"y":0.235,"c":"nav"},{"x":20.49,"y":0.225,"c":"nav"},{"x":20.49,"y":0.21,"c":"nav"},{"x":20.49,"y":0.195,"c":"nav"},{"x":20.49,"y":0.18,"c":"nav"},{"x":20.49,"y":0.165,"c":"nav"},{"x":20.49,"y":0.15,"c":"nav"},{"x":20.49,"y":0.135,"c":"nav"},{"x":20.49,"y":0.12,"c":"nav"},{"x":20.49,"y":0.105,"c":"nav"},{"x":20.49,"y":0.09,"c":"nav"},{"x":20.49,"y":0.075,"c":"nav"},{"x":20.49,"y":0.06,"c":"nav"},{"x":20.49,"y":0.045,"c":"nav"},{"x":20.49,"y":0.03,"c":"nav"},{"x":20.49,"y":0.015,"c":"nav"},{"x":20.49,"y":0.0,"c":"nav"},{"x":20.49,"y":-0.05,"c":"nav"},{"x":20.49,"y":-0.075,"c":"nav"},{"x":20.49,"y":-0.016,"c":"grn"},
{"x":21.3,"y":0.452,"c":"nav"},{"x":21.3,"y":0.432,"c":"nav"},{"x":21.3,"y":0.337,"c":"nav"},{"x":21.3,"y":0.126,"c":"nav"},{"x":21.3,"y":0.106,"c":"nav"},{"x":21.3,"y":0.071,"c":"nav"},
{"x":22.0,"y":0.3,"c":"nav"},{"x":22.05,"y":0.28,"c":"nav"},{"x":21.85,"y":0.265,"c":"nav"},{"x":22.0,"y":0.257,"c":"nav"},{"x":21.8,"y":0.115,"c":"nav"},{"x":22.0,"y":-0.173,"c":"nav"},{"x":22.0,"y":-0.249,"c":"nav"},{"x":22.0,"y":-0.306,"c":"nav"},
{"x":24,"y":0.367,"c":"tea"},{"x":24,"y":0.351,"c":"tea"},{"x":24,"y":0.251,"c":"tea"},{"x":24,"y":0.21,"c":"tea"},{"x":24,"y":0.19,"c":"tea"},{"x":24,"y":0.17,"c":"tea"},{"x":24,"y":0.057,"c":"tea"},{"x":24,"y":0.035,"c":"tea"},{"x":24,"y":-0.01,"c":"tea"}
],
"bot":[
{"x":3.9,"y":0.295,"c":"red"},{"x":3.9,"y":0.283,"c":"red"},{"x":3.9,"y":0.271,"c":"red"},{"x":3.9,"y":0.259,"c":"red"},{"x":3.9,"y":0.247,"c":"red"},{"x":3.9,"y":0.235,"c":"red"},{"x":3.9,"y":0.223,"c":"red"},{"x":3.9,"y":0.211,"c":"red"},{"x":3.9,"y":0.199,"c":"red"},{"x":3.9,"y":0.187,"c":"red"},{"x":3.9,"y":0.175,"c":"red"},{"x":3.9,"y":0.163,"c":"red"},{"x":3.9,"y":0.151,"c":"red"},{"x":3.9,"y":0.139,"c":"red"},{"x":3.9,"y":0.127,"c":"red"},{"x":3.9,"y":0.115,"c":"red"},{"x":3.9,"y":0.103,"c":"red"},{"x":3.9,"y":0.091,"c":"red"},{"x":3.9,"y":0.079,"c":"red"},{"x":3.9,"y":0.067,"c":"red"},{"x":3.9,"y":0.055,"c":"red"},{"x":3.9,"y":0.043,"c":"red"},{"x":3.9,"y":0.031,"c":"red"},{"x":3.9,"y":0.019,"c":"red"},{"x":3.9,"y":0.007,"c":"red"},{"x":3.9,"y":-0.005,"c":"red"},{"x":3.9,"y":-0.017,"c":"red"},{"x":3.9,"y":-0.029,"c":"red"},{"x":3.9,"y":-0.041,"c":"red"},{"x":3.9,"y":-0.053,"c":"red"},{"x":3.9,"y":-0.065,"c":"red"},{"x":3.9,"y":-0.077,"c":"red"},{"x":3.9,"y":-0.089,"c":"red"},{"x":3.9,"y":-0.101,"c":"red"},{"x":3.9,"y":-0.113,"c":"red"},{"x":3.9,"y":-0.125,"c":"red"},{"x":3.9,"y":-0.137,"c":"red"},
{"x":13.6,"y":0.385,"c":"nav"},{"x":13.6,"y":0.375,"c":"nav"},{"x":13.6,"y":0.365,"c":"nav"},{"x":13.6,"y":0.345,"c":"nav"},{"x":13.6,"y":0.29,"c":"nav"},{"x":13.6,"y":0.28,"c":"nav"},{"x":13.6,"y":0.27,"c":"nav"},{"x":13.6,"y":0.26,"c":"nav"},{"x":13.6,"y":0.25,"c":"nav"},{"x":13.6,"y":0.24,"c":"nav"},{"x":13.6,"y":0.23,"c":"nav"},{"x":13.6,"y":0.22,"c":"nav"},{"x":13.6,"y":0.21,"c":"nav"},{"x":13.6,"y":0.2,"c":"nav"},{"x":13.6,"y":0.19,"c":"nav"},{"x":13.6,"y":0.18,"c":"nav"},{"x":13.6,"y":0.17,"c":"nav"},{"x":13.6,"y":0.16,"c":"nav"},{"x":13.6,"y":0.15,"c":"nav"},{"x":13.6,"y":0.14,"c":"nav"},{"x":13.6,"y":0.13,"c":"nav"},{"x":13.6,"y":0.12,"c":"nav"},{"x":13.6,"y":0.11,"c":"nav"},{"x":13.6,"y":0.1,"c":"nav"},{"x":13.6,"y":0.09,"c":"nav"},{"x":13.6,"y":0.08,"c":"nav"},{"x":13.6,"y":0.07,"c":"nav"},{"x":13.6,"y":0.06,"c":"nav"},{"x":13.6,"y":0.05,"c":"nav"},{"x":13.6,"y":0.04,"c":"nav"},{"x":13.6,"y":0.03,"c":"nav"},{"x":13.6,"y":0.02,"c":"nav"},{"x":13.6,"y":0.01,"c":"nav"},{"x":13.6,"y":0,"c":"nav"},{"x":13.6,"y":-0.01,"c":"nav"},{"x":13.6,"y":-0.02,"c":"nav"},{"x":13.6,"y":-0.03,"c":"nav"},{"x":13.6,"y":-0.04,"c":"nav"},{"x":13.6,"y":-0.05,"c":"nav"},{"x":13.6,"y":-0.06,"c":"nav"},{"x":13.6,"y":-0.07,"c":"nav"},{"x":13.6,"y":-0.08,"c":"nav"},{"x":13.6,"y":-0.09,"c":"nav"},{"x":13.6,"y":-0.1,"c":"nav"},{"x":13.6,"y":-0.11,"c":"nav"},{"x":13.6,"y":-0.12,"c":"nav"},{"x":13.6,"y":-0.13,"c":"nav"},
{"x":13.6,"y":0.185,"c":"nav"},{"x":13.6,"y":0.175,"c":"nav"},{"x":13.6,"y":0.165,"c":"nav"},{"x":13.6,"y":0.155,"c":"nav"},{"x":13.6,"y":0.145,"c":"nav"},{"x":13.6,"y":0.135,"c":"nav"},{"x":13.6,"y":0.125,"c":"nav"},{"x":13.6,"y":0.115,"c":"nav"},{"x":13.6,"y":0.105,"c":"nav"},{"x":13.6,"y":0.095,"c":"nav"},{"x":13.6,"y":0.085,"c":"nav"},{"x":13.6,"y":0.075,"c":"nav"},{"x":13.6,"y":0.065,"c":"nav"},{"x":13.6,"y":0.055,"c":"nav"},{"x":13.6,"y":0.045,"c":"nav"},{"x":13.6,"y":0.035,"c":"nav"},{"x":13.6,"y":0.025,"c":"nav"},{"x":13.6,"y":0.015,"c":"nav"},{"x":13.6,"y":0.005,"c":"nav"},{"x":13.6,"y":-0.005,"c":"nav"},{"x":13.6,"y":-0.015,"c":"nav"},{"x":13.6,"y":-0.025,"c":"nav"},{"x":13.6,"y":-0.035,"c":"nav"},{"x":13.6,"y":-0.045,"c":"nav"},{"x":13.6,"y":-0.055,"c":"nav"},{"x":13.6,"y":-0.065,"c":"nav"},{"x":13.6,"y":-0.075,"c":"nav"},{"x":13.6,"y":-0.085,"c":"nav"},{"x":13.6,"y":-0.095,"c":"nav"},{"x":13.6,"y":-0.105,"c":"nav"},{"x":13.6,"y":-0.115,"c":"nav"},{"x":13.6,"y":-0.125,"c":"nav"},
{"x":24,"y":0.22,"c":"tea"},{"x":24.9,"y":0.065,"c":"tea"},{"x":24.9,"y":0.05,"c":"tea"},{"x":24.9,"y":0.035,"c":"tea"},{"x":24.9,"y":0.02,"c":"tea"},{"x":24.9,"y":0.005,"c":"tea"},{"x":24.9,"y":-0.01,"c":"tea"},{"x":24.9,"y":-0.025,"c":"tea"},{"x":24.9,"y":-0.04,"c":"tea"},{"x":24.9,"y":-0.055,"c":"tea"},{"x":24.9,"y":-0.07,"c":"tea"},{"x":24.9,"y":-0.085,"c":"tea"},{"x":24.9,"y":-0.1,"c":"tea"},{"x":24.9,"y":-0.115,"c":"tea"},{"x":24.9,"y":-0.13,"c":"tea"},{"x":24.9,"y":-0.145,"c":"tea"},{"x":24.9,"y":-0.16,"c":"tea"},{"x":24.9,"y":-0.175,"c":"tea"},{"x":24.9,"y":-0.19,"c":"tea"},{"x":24.9,"y":-0.205,"c":"tea"},{"x":24.9,"y":-0.255,"c":"tea"},
{"x":29.9,"y":0.43,"c":"nav"},{"x":29.9,"y":0.425,"c":"sea"},{"x":29.9,"y":0.365,"c":"sea"},{"x":29.9,"y":0.35,"c":"sea"},{"x":29.9,"y":0.34,"c":"sea"},{"x":29.9,"y":0.325,"c":"sea"},{"x":29.9,"y":0.313,"c":"sea"},{"x":29.9,"y":0.25,"c":"nav"},{"x":29.9,"y":0.236,"c":"sea"},{"x":29.9,"y":0.063,"c":"nav"},{"x":29.9,"y":0.028,"c":"sea"},
{"x":47.1,"y":0.66,"c":"oli"},{"x":47.1,"y":0.47,"c":"oli"},{"x":47.1,"y":0.455,"c":"oli"},{"x":47.1,"y":0.415,"c":"oli"},{"x":47.1,"y":0.4,"c":"oli"},{"x":47.1,"y":0.375,"c":"oli"},{"x":47.1,"y":0.34,"c":"oli"},{"x":47.1,"y":0.32,"c":"oli"},
{"x":47.1,"y":0.3,"c":"oli"},{"x":47.1,"y":0.29,"c":"oli"},{"x":47.1,"y":0.28,"c":"oli"},{"x":47.1,"y":0.27,"c":"oli"},{"x":47.1,"y":0.26,"c":"oli"},{"x":47.1,"y":0.25,"c":"oli"},{"x":47.1,"y":0.24,"c":"oli"},{"x":47.1,"y":0.23,"c":"oli"},{"x":47.1,"y":0.22,"c":"oli"},{"x":47.1,"y":0.21,"c":"oli"},{"x":47.1,"y":0.2,"c":"oli"},{"x":47.1,"y":0.19,"c":"oli"},{"x":47.1,"y":0.18,"c":"oli"},{"x":47.1,"y":0.17,"c":"oli"},{"x":47.1,"y":0.16,"c":"oli"},{"x":47.1,"y":0.15,"c":"oli"},{"x":47.1,"y":0.14,"c":"oli"},{"x":47.1,"y":0.13,"c":"oli"},{"x":47.1,"y":0.12,"c":"oli"},{"x":47.1,"y":0.11,"c":"oli"},{"x":47.1,"y":0.1,"c":"oli"},{"x":47.1,"y":0.09,"c":"oli"},{"x":47.1,"y":0.08,"c":"oli"},{"x":47.1,"y":0.07,"c":"oli"},{"x":47.1,"y":0.06,"c":"oli"},{"x":47.1,"y":0.05,"c":"oli"},{"x":47.1,"y":0.04,"c":"oli"},{"x":47.1,"y":0.03,"c":"oli"},{"x":47.1,"y":0.02,"c":"oli"},{"x":47.1,"y":0.01,"c":"oli"},{"x":47.1,"y":0,"c":"oli"},{"x":47.1,"y":-0.01,"c":"oli"},{"x":47.1,"y":-0.02,"c":"oli"},{"x":47.1,"y":-0.03,"c":"oli"},{"x":47.1,"y":-0.04,"c":"oli"},{"x":47.1,"y":-0.05,"c":"oli"},{"x":47.1,"y":-0.06,"c":"oli"},{"x":47.1,"y":-0.07,"c":"oli"},{"x":47.1,"y":-0.08,"c":"oli"},{"x":47.1,"y":-0.09,"c":"oli"},{"x":47.1,"y":-0.1,"c":"oli"},{"x":47.1,"y":-0.11,"c":"oli"},{"x":47.1,"y":-0.12,"c":"oli"},{"x":47.1,"y":-0.13,"c":"oli"},{"x":47.1,"y":-0.14,"c":"oli"},{"x":47.1,"y":-0.15,"c":"oli"},{"x":47.1,"y":-0.16,"c":"oli"},{"x":47.1,"y":-0.17,"c":"oli"},{"x":47.1,"y":-0.18,"c":"oli"},{"x":47.1,"y":-0.19,"c":"oli"},{"x":47.1,"y":-0.2,"c":"oli"},{"x":47.1,"y":-0.21,"c":"oli"},{"x":47.1,"y":-0.22,"c":"oli"},{"x":47.1,"y":-0.23,"c":"oli"},{"x":47.1,"y":-0.24,"c":"oli"},{"x":47.1,"y":-0.25,"c":"oli"},{"x":47.1,"y":-0.26,"c":"oli"},{"x":47.1,"y":-0.27,"c":"oli"},{"x":47.1,"y":-0.28,"c":"oli"},{"x":47.1,"y":-0.29,"c":"oli"},{"x":47.1,"y":-0.3,"c":"oli"},{"x":47.1,"y":-0.31,"c":"oli"},{"x":47.1,"y":-0.32,"c":"oli"},{"x":47.1,"y":-0.33,"c":"oli"},{"x":47.1,"y":-0.35,"c":"oli"},{"x":47.1,"y":-0.415,"c":"oli"},
{"x":47.1,"y":0.295,"c":"oli"},{"x":47.1,"y":0.285,"c":"oli"},{"x":47.1,"y":0.275,"c":"oli"},{"x":47.1,"y":0.265,"c":"oli"},{"x":47.1,"y":0.255,"c":"oli"},{"x":47.1,"y":0.245,"c":"oli"},{"x":47.1,"y":0.235,"c":"oli"},{"x":47.1,"y":0.225,"c":"oli"},{"x":47.1,"y":0.215,"c":"oli"},{"x":47.1,"y":0.205,"c":"oli"},{"x":47.1,"y":0.195,"c":"oli"},{"x":47.1,"y":0.185,"c":"oli"},{"x":47.1,"y":0.175,"c":"oli"},{"x":47.1,"y":0.165,"c":"oli"},{"x":47.1,"y":0.155,"c":"oli"},{"x":47.1,"y":0.145,"c":"oli"},{"x":47.1,"y":0.135,"c":"oli"},{"x":47.1,"y":0.125,"c":"oli"},{"x":47.1,"y":0.115,"c":"oli"},{"x":47.1,"y":0.105,"c":"oli"},{"x":47.1,"y":0.095,"c":"oli"},{"x":47.1,"y":0.085,"c":"oli"},{"x":47.1,"y":0.075,"c":"oli"},{"x":47.1,"y":0.065,"c":"oli"},{"x":47.1,"y":0.055,"c":"oli"},{"x":47.1,"y":0.045,"c":"oli"},{"x":47.1,"y":0.035,"c":"oli"},{"x":47.1,"y":0.025,"c":"oli"},{"x":47.1,"y":0.015,"c":"oli"},{"x":47.1,"y":0.005,"c":"oli"},{"x":47.1,"y":-0.005,"c":"oli"},{"x":47.1,"y":-0.015,"c":"oli"},{"x":47.1,"y":-0.025,"c":"oli"},{"x":47.1,"y":-0.035,"c":"oli"},{"x":47.1,"y":-0.045,"c":"oli"},{"x":47.1,"y":-0.055,"c":"oli"},{"x":47.1,"y":-0.065,"c":"oli"},{"x":47.1,"y":-0.075,"c":"oli"},{"x":47.1,"y":-0.085,"c":"oli"},{"x":47.1,"y":-0.095,"c":"oli"},{"x":47.1,"y":-0.105,"c":"oli"},{"x":47.1,"y":-0.115,"c":"oli"},{"x":47.1,"y":-0.125,"c":"oli"},{"x":47.1,"y":-0.135,"c":"oli"},{"x":47.1,"y":-0.145,"c":"oli"},{"x":47.1,"y":-0.155,"c":"oli"},{"x":47.1,"y":-0.165,"c":"oli"},{"x":47.1,"y":-0.175,"c":"oli"},{"x":47.1,"y":-0.185,"c":"oli"},{"x":47.1,"y":-0.195,"c":"oli"},{"x":47.1,"y":-0.205,"c":"oli"},{"x":47.1,"y":-0.215,"c":"oli"},{"x":47.1,"y":-0.225,"c":"oli"},{"x":47.1,"y":-0.235,"c":"oli"},{"x":47.1,"y":-0.245,"c":"oli"},{"x":47.1,"y":-0.255,"c":"oli"},{"x":47.1,"y":-0.265,"c":"oli"},{"x":47.1,"y":-0.275,"c":"oli"},{"x":47.1,"y":-0.285,"c":"oli"},{"x":47.1,"y":-0.295,"c":"oli"},{"x":47.1,"y":-0.305,"c":"oli"},{"x":47.1,"y":-0.315,"c":"oli"},{"x":47.1,"y":-0.325,"c":"oli"},
{"x":47.1,"y":-0.24,"c":"nav"},{"x":47.1,"y":-0.255,"c":"nav"},{"x":47.1,"y":-0.27,"c":"nav"},{"x":47.1,"y":-0.285,"c":"nav"},{"x":47.1,"y":-0.3,"c":"nav"},
{"x":45,"y":0.515,"c":"grn"},{"x":45,"y":0.43,"c":"grn"},{"x":45.5,"y":0.422,"c":"grn"},{"x":45,"y":0.195,"c":"nav"},
{"x":45,"y":0.17,"c":"grn"},{"x":45,"y":0.16,"c":"grn"},{"x":45,"y":0.15,"c":"grn"},{"x":45,"y":0.14,"c":"grn"},{"x":45,"y":0.13,"c":"grn"},{"x":45,"y":0.12,"c":"grn"},{"x":45,"y":0.11,"c":"grn"},{"x":45,"y":0.1,"c":"grn"},{"x":45,"y":0.09,"c":"grn"},{"x":45,"y":0.08,"c":"grn"},{"x":45,"y":0.07,"c":"grn"},{"x":45,"y":0.06,"c":"grn"},
{"x":45,"y":0.146,"c":"nav"},{"x":45,"y":0.105,"c":"brn"},{"x":45,"y":0.055,"c":"brn"},
{"x":45,"y":0.036,"c":"red"},{"x":45,"y":0.028,"c":"red"},{"x":45,"y":0.02,"c":"red"},{"x":45,"y":0.012,"c":"red"},{"x":45,"y":0.004,"c":"red"},{"x":45,"y":-0.002,"c":"red"},{"x":45,"y":-0.028,"c":"red"},{"x":45,"y":-0.048,"c":"brn"},
{"x":53,"y":0.158,"c":"nav"},{"x":53,"y":0.005,"c":"nav"},{"x":53,"y":-0.044,"c":"org"},{"x":53,"y":-0.115,"c":"org"},{"x":53,"y":-0.09,"c":"grn"},
{"x":58,"y":0.213,"c":"grn"},{"x":58,"y":0.192,"c":"grn"},{"x":58,"y":0.17,"c":"grn"},{"x":58,"y":0.16,"c":"grn"},{"x":58,"y":0.15,"c":"grn"},{"x":58,"y":0.14,"c":"grn"},{"x":58,"y":0.13,"c":"grn"},{"x":58,"y":0.12,"c":"grn"},{"x":58,"y":0.11,"c":"grn"},{"x":58,"y":0.1,"c":"grn"},{"x":58,"y":0.09,"c":"grn"},{"x":58,"y":0.08,"c":"grn"},{"x":58,"y":0.07,"c":"grn"},{"x":58,"y":0.06,"c":"grn"},{"x":58,"y":0.05,"c":"grn"},{"x":58,"y":0.04,"c":"grn"},
{"x":58,"y":0.165,"c":"grn"},{"x":58,"y":0.155,"c":"grn"},{"x":58,"y":0.145,"c":"grn"},{"x":58,"y":0.135,"c":"grn"},{"x":58,"y":0.125,"c":"grn"},{"x":58,"y":0.115,"c":"grn"},{"x":58,"y":0.105,"c":"grn"},{"x":58,"y":0.095,"c":"grn"},{"x":58,"y":0.085,"c":"grn"},{"x":58,"y":0.075,"c":"grn"},{"x":58,"y":0.065,"c":"grn"},
{"x":58,"y":0.05,"c":"stb"},{"x":58,"y":0.04,"c":"stb"},{"x":58,"y":0.03,"c":"stb"},{"x":58,"y":0.02,"c":"stb"},{"x":58,"y":0.01,"c":"stb"},{"x":58,"y":0,"c":"stb"},{"x":58,"y":-0.01,"c":"stb"},{"x":58,"y":-0.02,"c":"stb"},{"x":58,"y":-0.03,"c":"stb"},{"x":58,"y":-0.04,"c":"stb"},{"x":58,"y":-0.05,"c":"stb"},{"x":58,"y":-0.06,"c":"stb"},{"x":58,"y":-0.07,"c":"stb"},{"x":58,"y":-0.08,"c":"stb"},{"x":58,"y":-0.09,"c":"stb"},{"x":58,"y":-0.1,"c":"stb"},
{"x":58,"y":0.045,"c":"stb"},{"x":58,"y":0.035,"c":"stb"},{"x":58,"y":0.025,"c":"stb"},{"x":58,"y":0.015,"c":"stb"},{"x":58,"y":0.005,"c":"stb"},{"x":58,"y":-0.005,"c":"stb"},{"x":58,"y":-0.015,"c":"stb"},{"x":58,"y":-0.025,"c":"stb"},{"x":58,"y":-0.035,"c":"stb"},{"x":58,"y":-0.045,"c":"stb"},{"x":58,"y":-0.055,"c":"stb"},{"x":58,"y":-0.065,"c":"stb"},{"x":58,"y":-0.075,"c":"stb"},{"x":58,"y":-0.085,"c":"stb"},{"x":58,"y":-0.095,"c":"stb"},
{"x":58,"y":-0.12,"c":"sea"},{"x":58,"y":-0.148,"c":"sea"},
{"x":73.1,"y":0.307,"c":"sea"},{"x":73.1,"y":0.246,"c":"sea"},{"x":73.1,"y":0.221,"c":"sea"},{"x":73.1,"y":0.146,"c":"sea"},{"x":73.1,"y":0.136,"c":"sea"},{"x":73.1,"y":0.123,"c":"sea"},{"x":73.1,"y":0.088,"c":"sea"},{"x":73.1,"y":0.042,"c":"sea"},{"x":73.1,"y":0.028,"c":"sea"},{"x":73.1,"y":-0.066,"c":"sea"},{"x":73.1,"y":-0.156,"c":"sea"},{"x":73.1,"y":-0.282,"c":"sea"},
{"x":102.2,"y":0.61,"c":"nav"},{"x":102.2,"y":0.335,"c":"nav"},{"x":102.2,"y":0.258,"c":"nav"},{"x":98,"y":0.167,"c":"nav"},{"x":97.4,"y":0.134,"c":"nav"},{"x":100.8,"y":0.13,"c":"nav"},{"x":102.5,"y":0.11,"c":"nav"},{"x":99.7,"y":0.093,"c":"nav"},{"x":104.2,"y":0.093,"c":"nav"},{"x":101.3,"y":0.08,"c":"nav"},{"x":100.8,"y":0.044,"c":"nav"},
{"x":107.4,"y":0.315,"c":"nav"},{"x":107.4,"y":0.204,"c":"nav"},{"x":107.4,"y":0.155,"c":"nav"},{"x":107.4,"y":0.093,"c":"nav"},{"x":107.4,"y":0.061,"c":"nav"},{"x":107.4,"y":0.019,"c":"nav"},{"x":107.4,"y":0.005,"c":"nav"},{"x":107.4,"y":-0.01,"c":"nav"},{"x":107.4,"y":-0.025,"c":"nav"},{"x":107.4,"y":-0.04,"c":"nav"},{"x":107.4,"y":-0.055,"c":"nav"},{"x":107.4,"y":-0.07,"c":"nav"},{"x":107.4,"y":-0.085,"c":"nav"},{"x":107.4,"y":-0.1,"c":"nav"},{"x":107.4,"y":-0.115,"c":"nav"},{"x":107.4,"y":-0.129,"c":"nav"},{"x":107.4,"y":-0.185,"c":"nav"},{"x":107.4,"y":-0.242,"c":"nav"},{"x":107.4,"y":-0.336,"c":"nav"},{"x":107.4,"y":-0.373,"c":"nav"},{"x":107.4,"y":-0.423,"c":"nav"},{"x":107.4,"y":-0.548,"c":"nav"},
{"x":177.6,"y":-0.349,"c":"tea"},{"x":177.6,"y":-0.378,"c":"tea"},{"x":177.6,"y":-0.443,"c":"tea"},{"x":177.6,"y":-0.493,"c":"tea"},
{"x":187.5,"y":-0.273,"c":"tea"},{"x":187.5,"y":-0.3,"c":"tea"},{"x":187.5,"y":-0.322,"c":"tea"},{"x":187.5,"y":-0.356,"c":"tea"},{"x":187.5,"y":-0.398,"c":"tea"},
{"x":195.4,"y":0.044,"c":"sea"},{"x":195.4,"y":0.034,"c":"sea"},{"x":195.4,"y":0.024,"c":"sea"},{"x":195.4,"y":0.014,"c":"sea"},{"x":195.4,"y":0.004,"c":"sea"},{"x":195.4,"y":-0.006,"c":"sea"},{"x":195.4,"y":-0.016,"c":"sea"},{"x":195.4,"y":-0.026,"c":"sea"},{"x":195.4,"y":-0.036,"c":"sea"},{"x":195.4,"y":-0.046,"c":"sea"},{"x":195.4,"y":-0.056,"c":"sea"},{"x":195.4,"y":-0.066,"c":"sea"},{"x":195.4,"y":-0.076,"c":"sea"},{"x":195.4,"y":-0.086,"c":"sea"},{"x":195.4,"y":-0.096,"c":"sea"},{"x":195.4,"y":-0.106,"c":"sea"},{"x":195.4,"y":-0.116,"c":"sea"},{"x":195.4,"y":-0.126,"c":"sea"},{"x":195.4,"y":-0.136,"c":"sea"},{"x":195.4,"y":-0.146,"c":"sea"},{"x":195.4,"y":-0.156,"c":"sea"},{"x":195.4,"y":-0.166,"c":"sea"},{"x":195.4,"y":-0.176,"c":"sea"},{"x":195.4,"y":-0.186,"c":"sea"},{"x":195.4,"y":-0.196,"c":"sea"},{"x":195.4,"y":-0.206,"c":"sea"},{"x":195.4,"y":-0.216,"c":"sea"},{"x":195.4,"y":-0.226,"c":"sea"},{"x":195.4,"y":-0.236,"c":"sea"},{"x":195.4,"y":-0.246,"c":"sea"},{"x":195.4,"y":-0.256,"c":"sea"},{"x":195.4,"y":-0.266,"c":"sea"},{"x":195.4,"y":-0.276,"c":"sea"},{"x":195.4,"y":-0.286,"c":"sea"},{"x":195.4,"y":-0.296,"c":"sea"},{"x":195.4,"y":-0.306,"c":"sea"},{"x":195.4,"y":-0.316,"c":"sea"},{"x":195.4,"y":-0.326,"c":"sea"},{"x":195.4,"y":-0.336,"c":"sea"},{"x":195.4,"y":-0.346,"c":"sea"},{"x":195.4,"y":-0.356,"c":"sea"},{"x":195.4,"y":-0.366,"c":"sea"},{"x":195.4,"y":-0.376,"c":"sea"},{"x":195.4,"y":-0.39,"c":"sea"},{"x":195.4,"y":-0.41,"c":"sea"},
{"x":195.4,"y":0.039,"c":"sea"},{"x":195.4,"y":0.029,"c":"sea"},{"x":195.4,"y":0.019,"c":"sea"},{"x":195.4,"y":0.009,"c":"sea"},{"x":195.4,"y":-0.001,"c":"sea"},{"x":195.4,"y":-0.011,"c":"sea"},{"x":195.4,"y":-0.021,"c":"sea"},{"x":195.4,"y":-0.031,"c":"sea"},{"x":195.4,"y":-0.041,"c":"sea"},{"x":195.4,"y":-0.051,"c":"sea"},{"x":195.4,"y":-0.061,"c":"sea"},{"x":195.4,"y":-0.071,"c":"sea"},{"x":195.4,"y":-0.081,"c":"sea"},{"x":195.4,"y":-0.091,"c":"sea"},{"x":195.4,"y":-0.101,"c":"sea"},{"x":195.4,"y":-0.111,"c":"sea"},{"x":195.4,"y":-0.121,"c":"sea"},{"x":195.4,"y":-0.131,"c":"sea"},{"x":195.4,"y":-0.141,"c":"sea"},{"x":195.4,"y":-0.151,"c":"sea"},{"x":195.4,"y":-0.161,"c":"sea"},{"x":195.4,"y":-0.171,"c":"sea"},{"x":195.4,"y":-0.181,"c":"sea"},{"x":195.4,"y":-0.191,"c":"sea"},{"x":195.4,"y":-0.201,"c":"sea"},{"x":195.4,"y":-0.211,"c":"sea"},{"x":195.4,"y":-0.221,"c":"sea"},{"x":195.4,"y":-0.231,"c":"sea"},{"x":195.4,"y":-0.241,"c":"sea"},{"x":195.4,"y":-0.251,"c":"sea"},{"x":195.4,"y":-0.261,"c":"sea"},{"x":195.4,"y":-0.271,"c":"sea"},{"x":195.4,"y":-0.281,"c":"sea"},{"x":195.4,"y":-0.291,"c":"sea"},{"x":195.4,"y":-0.301,"c":"sea"},{"x":195.4,"y":-0.311,"c":"sea"},{"x":195.4,"y":-0.321,"c":"sea"},{"x":195.4,"y":-0.331,"c":"sea"},{"x":195.4,"y":-0.341,"c":"sea"},{"x":195.4,"y":-0.351,"c":"sea"},{"x":195.4,"y":-0.361,"c":"sea"},{"x":195.4,"y":-0.371,"c":"sea"},{"x":195.4,"y":-0.381,"c":"sea"},
{"x":195.4,"y":0.155,"c":"nav"},{"x":195.4,"y":0.134,"c":"nav"},{"x":195.4,"y":0.1,"c":"nav"},{"x":195.6,"y":-0.063,"c":"nav"},{"x":195.6,"y":-0.204,"c":"nav"},{"x":195.6,"y":-0.315,"c":"nav"},{"x":195.6,"y":-0.402,"c":"nav"},
{"x":193.6,"y":-0.121,"c":"tea"},{"x":193.6,"y":-0.171,"c":"tea"},{"x":193.6,"y":-0.2,"c":"tea"},{"x":193.6,"y":-0.254,"c":"tea"},{"x":193.6,"y":-0.336,"c":"tea"},{"x":193.6,"y":-0.476,"c":"tea"},
{"x":203.6,"y":-0.096,"c":"tea"},{"x":203.6,"y":-0.129,"c":"tea"},{"x":203.6,"y":-0.233,"c":"tea"},{"x":203.6,"y":-0.442,"c":"tea"},
{"x":213.6,"y":0.009,"c":"nav"},{"x":213.6,"y":-0.04,"c":"nav"},{"x":213.6,"y":-0.146,"c":"nav"},{"x":213.6,"y":-0.188,"c":"nav"},{"x":213.6,"y":-0.196,"c":"nav"},{"x":213.6,"y":-0.221,"c":"nav"},
{"x":217,"y":-0.099,"c":"tea"},{"x":217,"y":-0.194,"c":"tea"},{"x":217,"y":-0.245,"c":"tea"},{"x":217,"y":-0.262,"c":"tea"},
{"x":288.9,"y":0.477,"c":"nav"},{"x":288.9,"y":0.457,"c":"nav"},{"x":288.9,"y":0.385,"c":"nav"},{"x":288.9,"y":0.341,"c":"nav"},{"x":288.9,"y":0.33,"c":"nav"},{"x":288.9,"y":0.315,"c":"nav"},{"x":288.9,"y":0.3,"c":"nav"},{"x":288.9,"y":0.29,"c":"nav"},{"x":288.9,"y":0.275,"c":"nav"},{"x":288.9,"y":0.26,"c":"nav"},{"x":288.9,"y":0.245,"c":"nav"},{"x":288.9,"y":0.23,"c":"nav"},{"x":288.9,"y":0.215,"c":"nav"},{"x":288.9,"y":0.2,"c":"nav"},{"x":288.9,"y":0.19,"c":"nav"},
{"x":288.9,"y":0.18,"c":"nav"},{"x":288.9,"y":0.17,"c":"nav"},{"x":288.9,"y":0.16,"c":"nav"},{"x":288.9,"y":0.15,"c":"nav"},{"x":288.9,"y":0.14,"c":"nav"},{"x":288.9,"y":0.13,"c":"nav"},{"x":288.9,"y":0.12,"c":"nav"},{"x":288.9,"y":0.11,"c":"nav"},{"x":288.9,"y":0.1,"c":"nav"},{"x":288.9,"y":0.09,"c":"nav"},{"x":288.9,"y":0.08,"c":"nav"},{"x":288.9,"y":0.07,"c":"nav"},{"x":288.9,"y":0.06,"c":"nav"},{"x":288.9,"y":0.05,"c":"nav"},{"x":288.9,"y":0.04,"c":"nav"},{"x":288.9,"y":0.03,"c":"nav"},{"x":288.9,"y":0.02,"c":"nav"},{"x":288.9,"y":0.01,"c":"nav"},{"x":288.9,"y":0,"c":"nav"},{"x":288.9,"y":-0.01,"c":"nav"},{"x":288.9,"y":-0.02,"c":"nav"},{"x":288.9,"y":-0.03,"c":"nav"},{"x":288.9,"y":-0.04,"c":"nav"},{"x":288.9,"y":-0.05,"c":"nav"},{"x":288.9,"y":-0.06,"c":"nav"},{"x":288.9,"y":-0.07,"c":"nav"},{"x":288.9,"y":-0.08,"c":"nav"},{"x":288.9,"y":-0.09,"c":"nav"},{"x":288.9,"y":-0.1,"c":"nav"},{"x":288.9,"y":-0.11,"c":"nav"},{"x":288.9,"y":-0.12,"c":"nav"},{"x":288.9,"y":-0.13,"c":"nav"},{"x":288.9,"y":-0.14,"c":"nav"},{"x":288.9,"y":-0.15,"c":"nav"},{"x":288.9,"y":-0.16,"c":"nav"},{"x":288.9,"y":-0.17,"c":"nav"},{"x":288.9,"y":-0.18,"c":"nav"},{"x":288.9,"y":-0.19,"c":"nav"},{"x":288.9,"y":-0.2,"c":"nav"},{"x":288.9,"y":-0.229,"c":"nav"},{"x":288.9,"y":-0.281,"c":"nav"},{"x":288.9,"y":-0.287,"c":"nav"},{"x":288.9,"y":-0.336,"c":"nav"},{"x":288.9,"y":-0.36,"c":"nav"},{"x":288.9,"y":-0.418,"c":"nav"},{"x":288.9,"y":-0.505,"c":"nav"},
{"x":288.9,"y":0.185,"c":"nav"},{"x":288.9,"y":0.175,"c":"nav"},{"x":288.9,"y":0.165,"c":"nav"},{"x":288.9,"y":0.155,"c":"nav"},{"x":288.9,"y":0.145,"c":"nav"},{"x":288.9,"y":0.135,"c":"nav"},{"x":288.9,"y":0.125,"c":"nav"},{"x":288.9,"y":0.115,"c":"nav"},{"x":288.9,"y":0.105,"c":"nav"},{"x":288.9,"y":0.095,"c":"nav"},{"x":288.9,"y":0.085,"c":"nav"},{"x":288.9,"y":0.075,"c":"nav"},{"x":288.9,"y":0.065,"c":"nav"},{"x":288.9,"y":0.055,"c":"nav"},{"x":288.9,"y":0.045,"c":"nav"},{"x":288.9,"y":0.035,"c":"nav"},{"x":288.9,"y":0.025,"c":"nav"},{"x":288.9,"y":0.015,"c":"nav"},{"x":288.9,"y":0.005,"c":"nav"},{"x":288.9,"y":-0.005,"c":"nav"},{"x":288.9,"y":-0.015,"c":"nav"},{"x":288.9,"y":-0.025,"c":"nav"},{"x":288.9,"y":-0.035,"c":"nav"},{"x":288.9,"y":-0.045,"c":"nav"},{"x":288.9,"y":-0.055,"c":"nav"},{"x":288.9,"y":-0.065,"c":"nav"},{"x":288.9,"y":-0.075,"c":"nav"},{"x":288.9,"y":-0.085,"c":"nav"},{"x":288.9,"y":-0.095,"c":"nav"},{"x":288.9,"y":-0.105,"c":"nav"},{"x":288.9,"y":-0.115,"c":"nav"},{"x":288.9,"y":-0.125,"c":"nav"},{"x":288.9,"y":-0.135,"c":"nav"},{"x":288.9,"y":-0.145,"c":"nav"},{"x":288.9,"y":-0.155,"c":"nav"},{"x":288.9,"y":-0.165,"c":"nav"},{"x":288.9,"y":-0.175,"c":"nav"},{"x":288.9,"y":-0.185,"c":"nav"},{"x":288.9,"y":-0.195,"c":"nav"},
{"x":315.3,"y":0.176,"c":"nav"},{"x":315.3,"y":0.154,"c":"nav"},{"x":315.3,"y":0.134,"c":"nav"},{"x":315.3,"y":0.11,"c":"nav"},
{"x":334.2,"y":0.222,"c":"sea"},{"x":334.2,"y":0.205,"c":"sea"},{"x":334.2,"y":0.192,"c":"sea"},{"x":334.2,"y":0.155,"c":"sea"},{"x":334.2,"y":0.126,"c":"sea"},{"x":334.2,"y":0.114,"c":"sea"},{"x":334.2,"y":0.097,"c":"sea"},{"x":334.2,"y":0.085,"c":"sea"},{"x":334.2,"y":0.044,"c":"sea"},{"x":334.2,"y":0.011,"c":"sea"},{"x":334.2,"y":-0.014,"c":"sea"},{"x":334.2,"y":-0.068,"c":"sea"},
{"x":341.5,"y":0.465,"c":"nav"},{"x":341.5,"y":0.448,"c":"nav"},{"x":341.5,"y":0.37,"c":"tea"},{"x":341.5,"y":0.357,"c":"tea"},{"x":341.5,"y":0.349,"c":"nav"},{"x":341.5,"y":0.258,"c":"tea"},{"x":341.8,"y":0.125,"c":"nav"},{"x":341.8,"y":0.1,"c":"nav"},{"x":341.8,"y":0.07,"c":"nav"},{"x":341.8,"y":0.06,"c":"tea"},{"x":341.8,"y":0.035,"c":"tea"},{"x":341.8,"y":0.01,"c":"tea"},{"x":341.8,"y":-0.01,"c":"tea"},
{"x":349.5,"y":0.247,"c":"nav"},{"x":349.5,"y":0.234,"c":"nav"},{"x":349.5,"y":0.2,"c":"nav"},{"x":349.5,"y":0.171,"c":"nav"},{"x":349.5,"y":0.15,"c":"nav"},{"x":349.5,"y":0.14,"c":"nav"},{"x":349.5,"y":0.13,"c":"nav"},{"x":349.5,"y":0.12,"c":"nav"},{"x":349.5,"y":0.11,"c":"nav"},{"x":349.5,"y":0.1,"c":"nav"},{"x":349.5,"y":0.09,"c":"nav"},{"x":349.5,"y":0.08,"c":"nav"},{"x":349.5,"y":0.07,"c":"nav"},{"x":349.5,"y":0.06,"c":"nav"},{"x":349.5,"y":0.05,"c":"nav"},{"x":349.5,"y":0.04,"c":"nav"},{"x":349.5,"y":0.03,"c":"nav"},{"x":349.5,"y":0.02,"c":"nav"},{"x":349.5,"y":0.01,"c":"nav"},{"x":349.5,"y":0,"c":"nav"},{"x":349.5,"y":-0.01,"c":"nav"},{"x":349.5,"y":-0.02,"c":"nav"},{"x":349.5,"y":-0.03,"c":"nav"},{"x":349.5,"y":-0.04,"c":"nav"},{"x":349.5,"y":-0.05,"c":"nav"},{"x":349.5,"y":-0.06,"c":"nav"},{"x":349.5,"y":-0.07,"c":"nav"},{"x":349.5,"y":-0.08,"c":"nav"},{"x":349.5,"y":-0.09,"c":"nav"},{"x":349.5,"y":-0.1,"c":"nav"},{"x":349.5,"y":-0.11,"c":"nav"},{"x":349.5,"y":-0.12,"c":"nav"},{"x":349.5,"y":-0.13,"c":"nav"},{"x":349.5,"y":-0.138,"c":"nav"},
{"x":349.5,"y":0.145,"c":"nav"},{"x":349.5,"y":0.135,"c":"nav"},{"x":349.5,"y":0.125,"c":"nav"},{"x":349.5,"y":0.115,"c":"nav"},{"x":349.5,"y":0.105,"c":"nav"},{"x":349.5,"y":0.095,"c":"nav"},{"x":349.5,"y":0.085,"c":"nav"},{"x":349.5,"y":0.075,"c":"nav"},{"x":349.5,"y":0.065,"c":"nav"},{"x":349.5,"y":0.055,"c":"nav"},{"x":349.5,"y":0.045,"c":"nav"},{"x":349.5,"y":0.035,"c":"nav"},{"x":349.5,"y":0.025,"c":"nav"},{"x":349.5,"y":0.015,"c":"nav"},{"x":349.5,"y":0.005,"c":"nav"},{"x":349.5,"y":-0.005,"c":"nav"},{"x":349.5,"y":-0.015,"c":"nav"},{"x":349.5,"y":-0.025,"c":"nav"},{"x":349.5,"y":-0.035,"c":"nav"},{"x":349.5,"y":-0.045,"c":"nav"},{"x":349.5,"y":-0.055,"c":"nav"},{"x":349.5,"y":-0.065,"c":"nav"},{"x":349.5,"y":-0.075,"c":"nav"},{"x":349.5,"y":-0.085,"c":"nav"},{"x":349.5,"y":-0.095,"c":"nav"},{"x":349.5,"y":-0.105,"c":"nav"},{"x":349.5,"y":-0.115,"c":"nav"},{"x":349.5,"y":-0.125,"c":"nav"},
{"x":358.5,"y":0.307,"c":"nav"},{"x":358.5,"y":0.283,"c":"nav"},{"x":358.5,"y":0.271,"c":"nav"},{"x":357.6,"y":0.213,"c":"tea"},{"x":357.6,"y":0.192,"c":"tea"},{"x":357.6,"y":0.171,"c":"tea"},{"x":358.5,"y":-0.179,"c":"nav"},{"x":358.5,"y":-0.253,"c":"nav"},{"x":358.5,"y":-0.315,"c":"nav"},{"x":362.8,"y":0.263,"c":"nav"},{"x":362.8,"y":0.114,"c":"nav"}
]
},
"vconcat":[
{"width":1239,"height":620,
 "layer":[
  {"data":{"name":"top"},
   "mark":{"type":"point","shape":"circle","filled":false,"size":350,"strokeWidth":3,"opacity":1},
   "encoding":{
    "x":{"field":"x","type":"quantitative","scale":{"domain":[0,24],"nice":false,"zero":false},
         "axis":{"values":[0,2,4,6,8,10,12,14,16,18,20,22,24],"format":"d","title":"Daylight Hours (DLh)","titleX":607,"titleY":145,"titleBaseline":"alphabetic","titleAlign":"center","tickOpacity":{"condition":{"test":"datum.value === 0 || datum.value === 24","value":0},"value":1},"labelOffset":{"condition":{"test":"datum.value === 0","value":-3},"value":0}}},
    "y":{"field":"y","type":"quantitative","scale":{"domain":[-0.598,0.685],"nice":false,"zero":false},
         "axis":{"values":[-0.4,-0.2,0,0.2,0.4,0.6],"labelExpr":"replace(format(datum.value,'.1f'),'\u2212','-')","title":"Residual log(RRm) - log(RRmodel)","titleFontSize":54,"titleX":-139,"titleY":845,"titleAngle":-90,"titleAlign":"center","titleBaseline":"middle"}},
    "color":{"field":"c","type":"nominal","legend":null,"scale":{"domain":["nav","tea","sea","grn","oli","red","org","brn","stb"],"range":["#354A98","#2A8A9C","#1E9677","#2E9E58","#63A135","#D7262C","#C4652C","#937A2E","#3072AE"]}}
   }},
  {"data":{"name":"tl"},"mark":{"type":"line","color":"#111","strokeWidth":2.5},
   "encoding":{"x":{"field":"x","type":"quantitative"},"y":{"field":"y","type":"quantitative"}}}
 ]},
{"width":1239,"height":619,
 "layer":[
  {"data":{"name":"bot"},
   "mark":{"type":"point","shape":"circle","filled":false,"size":350,"strokeWidth":3,"opacity":1},
   "encoding":{
    "x":{"field":"x","type":"quantitative","scale":{"domain":[-1,365.5],"nice":false,"zero":false},
         "axis":{"values":[0,50,100,150,200,250,300,350],"format":"d","title":"Day of Year (DoY)","titleX":613,"titleY":144,"titleBaseline":"alphabetic","titleAlign":"center","tickOpacity":{"condition":{"test":"datum.value === 0","value":0},"value":1},"labelOffset":{"condition":{"test":"datum.value === 0","value":-8},"value":0}}},
    "y":{"field":"y","type":"quantitative","scale":{"domain":[-0.597,0.697],"nice":false,"zero":false},
         "axis":{"values":[-0.4,-0.2,0,0.2,0.4,0.6],"labelExpr":"replace(format(datum.value,'.1f'),'\u2212','-')","title":null}},
    "color":{"field":"c","type":"nominal","legend":null,"scale":{"domain":["nav","tea","sea","grn","oli","red","org","brn","stb"],"range":["#354A98","#2A8A9C","#1E9677","#2E9E58","#63A135","#D7262C","#C4652C","#937A2E","#3072AE"]}}
   }},
  {"data":{"name":"bl"},"mark":{"type":"line","color":"#111","strokeWidth":2.5,"interpolate":"monotone"},
   "encoding":{"x":{"field":"x","type":"quantitative"},"y":{"field":"y","type":"quantitative"}}}
 ]}
]
}
